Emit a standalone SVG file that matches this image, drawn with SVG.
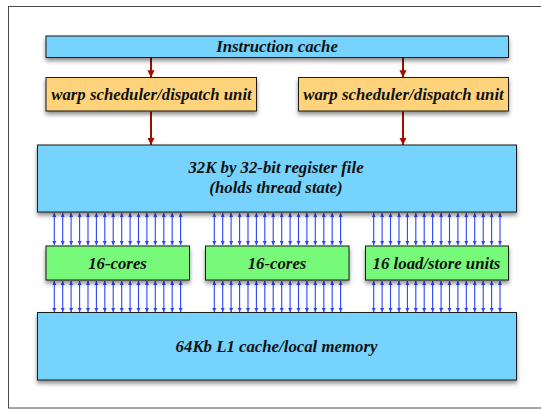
<svg xmlns="http://www.w3.org/2000/svg" width="541" height="410" viewBox="0 0 541 410">
  <style>
    .box { stroke: #1a1a1a; stroke-width: 1; filter: url(#shadow); }
    .blue { fill: #74d3fd; }
    .orange { fill: #fed37c; }
    .green { fill: #77f97a; }
    .label { font-family: "Liberation Serif", "Times New Roman", serif; font-weight: bold; font-style: italic; font-size: 16.8px; fill: #111; text-anchor: middle; }
    .ctrl { stroke: #9b1000; stroke-width: 2; fill: none; }
    .bus { stroke: #2b45ff; stroke-width: 1.1; fill: none; }
  </style>
  <defs>
    <filter id="shadow" x="-10%" y="-20%" width="120%" height="160%">
      <feDropShadow dx="0" dy="3" stdDeviation="2" flood-color="#000" flood-opacity="0.45"/>
    </filter>
    <marker id="redHead" viewBox="0 0 10 10" refX="10" refY="5" markerWidth="3.6" markerHeight="3.6" orient="auto" markerUnits="strokeWidth">
      <path d="M0,0 L10,5 L0,10 Z" fill="#9b1000"/>
    </marker>
    <marker id="blueHead" viewBox="0 0 10 10" refX="10" refY="5" markerWidth="4" markerHeight="4" orient="auto-start-reverse" markerUnits="strokeWidth">
      <path d="M0,0 L10,5 L0,10 Z" fill="#2b45ff"/>
    </marker>
    <!-- bidirectional data lanes: register file <-> units, units <-> L1 -->
    <line id="laneUp" class="bus" x1="0" y1="213" x2="0" y2="245" marker-start="url(#blueHead)" marker-end="url(#blueHead)"/>
    <line id="laneDown" class="bus" x1="0" y1="281" x2="0" y2="312" marker-start="url(#blueHead)" marker-end="url(#blueHead)"/>
  </defs>

  <!-- outer frame -->
  <rect x="8.5" y="6.5" width="545" height="401.5" fill="#fff" stroke="#4a4a4a" stroke-width="1"/>

  <!-- connectors -->
  <g id="connectors">
    <line class="ctrl" x1="151" y1="58" x2="151" y2="77.5" marker-end="url(#redHead)"/>
    <line class="ctrl" x1="403" y1="58" x2="403" y2="77.5" marker-end="url(#redHead)"/>
    <line class="ctrl" x1="151" y1="111.5" x2="151" y2="145" marker-end="url(#redHead)"/>
    <line class="ctrl" x1="403" y1="111.5" x2="403" y2="145" marker-end="url(#redHead)"/>
    <g id="bus-upper">
      <use href="#laneUp" x="54.3"/><use href="#laneUp" x="62.7"/><use href="#laneUp" x="71.1"/><use href="#laneUp" x="79.6"/>
      <use href="#laneUp" x="88.0"/><use href="#laneUp" x="96.4"/><use href="#laneUp" x="104.8"/><use href="#laneUp" x="113.2"/>
      <use href="#laneUp" x="121.7"/><use href="#laneUp" x="130.1"/><use href="#laneUp" x="138.5"/><use href="#laneUp" x="146.9"/>
      <use href="#laneUp" x="155.3"/><use href="#laneUp" x="163.8"/><use href="#laneUp" x="172.2"/><use href="#laneUp" x="180.6"/>
      <use href="#laneUp" x="214.3"/><use href="#laneUp" x="222.7"/><use href="#laneUp" x="231.1"/><use href="#laneUp" x="239.6"/>
      <use href="#laneUp" x="248.0"/><use href="#laneUp" x="256.4"/><use href="#laneUp" x="264.8"/><use href="#laneUp" x="273.2"/>
      <use href="#laneUp" x="281.7"/><use href="#laneUp" x="290.1"/><use href="#laneUp" x="298.5"/><use href="#laneUp" x="306.9"/>
      <use href="#laneUp" x="315.3"/><use href="#laneUp" x="323.8"/><use href="#laneUp" x="332.2"/><use href="#laneUp" x="340.6"/>
      <use href="#laneUp" x="373.7"/><use href="#laneUp" x="382.1"/><use href="#laneUp" x="390.5"/><use href="#laneUp" x="399.0"/>
      <use href="#laneUp" x="407.4"/><use href="#laneUp" x="415.8"/><use href="#laneUp" x="424.2"/><use href="#laneUp" x="432.6"/>
      <use href="#laneUp" x="441.1"/><use href="#laneUp" x="449.5"/><use href="#laneUp" x="457.9"/><use href="#laneUp" x="466.3"/>
      <use href="#laneUp" x="474.7"/><use href="#laneUp" x="483.2"/><use href="#laneUp" x="491.6"/><use href="#laneUp" x="500.0"/>
    </g>
    <g id="bus-lower">
      <use href="#laneDown" x="54.3"/><use href="#laneDown" x="62.7"/><use href="#laneDown" x="71.1"/><use href="#laneDown" x="79.6"/>
      <use href="#laneDown" x="88.0"/><use href="#laneDown" x="96.4"/><use href="#laneDown" x="104.8"/><use href="#laneDown" x="113.2"/>
      <use href="#laneDown" x="121.7"/><use href="#laneDown" x="130.1"/><use href="#laneDown" x="138.5"/><use href="#laneDown" x="146.9"/>
      <use href="#laneDown" x="155.3"/><use href="#laneDown" x="163.8"/><use href="#laneDown" x="172.2"/><use href="#laneDown" x="180.6"/>
      <use href="#laneDown" x="214.3"/><use href="#laneDown" x="222.7"/><use href="#laneDown" x="231.1"/><use href="#laneDown" x="239.6"/>
      <use href="#laneDown" x="248.0"/><use href="#laneDown" x="256.4"/><use href="#laneDown" x="264.8"/><use href="#laneDown" x="273.2"/>
      <use href="#laneDown" x="281.7"/><use href="#laneDown" x="290.1"/><use href="#laneDown" x="298.5"/><use href="#laneDown" x="306.9"/>
      <use href="#laneDown" x="315.3"/><use href="#laneDown" x="323.8"/><use href="#laneDown" x="332.2"/><use href="#laneDown" x="340.6"/>
      <use href="#laneDown" x="373.7"/><use href="#laneDown" x="382.1"/><use href="#laneDown" x="390.5"/><use href="#laneDown" x="399.0"/>
      <use href="#laneDown" x="407.4"/><use href="#laneDown" x="415.8"/><use href="#laneDown" x="424.2"/><use href="#laneDown" x="432.6"/>
      <use href="#laneDown" x="441.1"/><use href="#laneDown" x="449.5"/><use href="#laneDown" x="457.9"/><use href="#laneDown" x="466.3"/>
      <use href="#laneDown" x="474.7"/><use href="#laneDown" x="483.2"/><use href="#laneDown" x="491.6"/><use href="#laneDown" x="500.0"/>
    </g>
  </g>

  <g id="instruction-cache">
    <rect class="box blue" x="46" y="36" width="462.5" height="21.5"/>
    <text class="label" x="277" y="52">Instruction cache</text>
  </g>

  <g id="warp-scheduler-1">
    <rect class="box orange" x="46" y="77.5" width="210.5" height="33.5"/>
    <text class="label" x="151.5" y="100">warp scheduler/dispatch unit</text>
  </g>
  <g id="warp-scheduler-2">
    <rect class="box orange" x="298.5" y="77.5" width="210" height="33.5"/>
    <text class="label" x="403.5" y="100">warp scheduler/dispatch unit</text>
  </g>

  <g id="register-file">
    <rect class="box blue" x="37.5" y="145" width="479" height="67"/>
    <text class="label" x="276" y="173.3">32K by 32-bit register file</text>
    <text class="label" x="276" y="192.7">(holds thread state)</text>
  </g>

  <g id="cores-1">
    <rect class="box green" x="46" y="246" width="143.5" height="34"/>
    <text class="label" x="117.5" y="268.5">16-cores</text>
  </g>
  <g id="cores-2">
    <rect class="box green" x="205.5" y="246" width="143.5" height="34"/>
    <text class="label" x="277" y="268.5">16-cores</text>
  </g>
  <g id="load-store">
    <rect class="box green" x="365.5" y="246" width="143" height="34"/>
    <text class="label" x="436.5" y="268.5">16 load/store units</text>
  </g>

  <g id="l1-cache">
    <rect class="box blue" x="37.5" y="312.5" width="479" height="67.5"/>
    <text class="label" x="276.5" y="352.3">64Kb L1 cache/local memory</text>
  </g>
</svg>
